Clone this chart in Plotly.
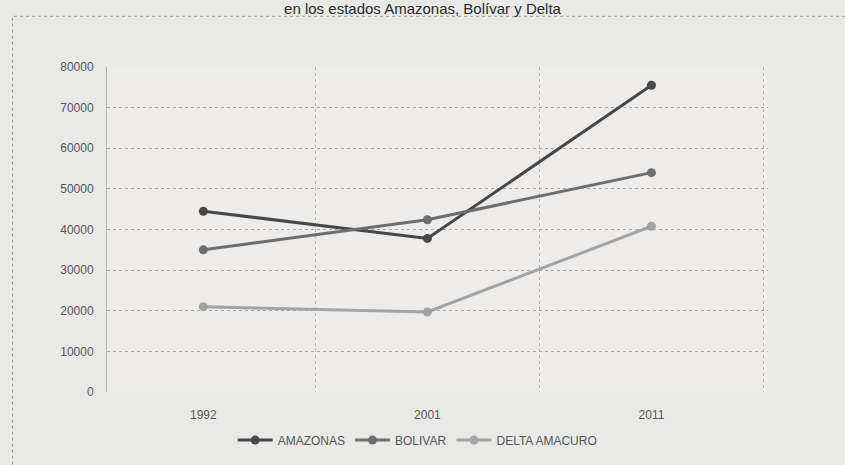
import plotly.graph_objects as go

years = ["1992", "2001", "2011"]
amazonas = [44500, 37800, 75500]
bolivar = [35000, 42400, 54000]
delta = [21000, 19700, 40800]
series_names = ["AMAZONAS", "BOLIVAR", "DELTA AMACURO"]
colors = ["#474747", "#6e6e6e", "#a3a3a3"]
title_text = "en los estados Amazonas, Bolívar y Delta"

xpos = list(range(len(years)))
fig = go.Figure()
for name, vals, col in zip(series_names, [amazonas, bolivar, delta], colors):
    fig.add_trace(go.Scatter(
        x=xpos, y=vals, name=name, mode="lines+markers",
        line=dict(color=col, width=3),
        marker=dict(color=col, size=9),
    ))

fig.update_layout(
    width=845, height=465,
    margin=dict(l=107, r=77, t=67, b=72),
    paper_bgcolor="#e9e9e7",
    plot_bgcolor="#edecea",
    font=dict(family="Liberation Sans, Arial", color="#555555", size=11),
    title=dict(text=title_text, x=0.5, xanchor="center", xref="container",
               y=0.982, yanchor="middle", yref="container",
               font=dict(size=15, color="#2a2a2a", family="Liberation Sans, Arial")),
    legend=dict(orientation="h", x=0.47, xanchor="center", y=-0.1, yanchor="top",
                font=dict(size=12, color="#555555"), itemwidth=35,
                bgcolor="rgba(0,0,0,0)"),
    xaxis=dict(
        range=[-0.43, 2.52], tickmode="array", tickvals=xpos, ticktext=years,
        showgrid=False, zeroline=False, showline=False, ticks="",
        ticklabelstandoff=14,
        tickfont=dict(size=12, color="#555555"),
        minor=dict(tickmode="array", tickvals=[0.5, 1.5, 2.5], showgrid=True,
                   gridcolor="#b5b5b5", griddash="dot", gridwidth=1),
    ),
    yaxis=dict(
        range=[0, 80000], dtick=10000, tickformat="d",
        showgrid=True, gridcolor="#a8a8a8", griddash="dot", gridwidth=1,
        zeroline=False, showline=True, linecolor="#b5b5b5", ticks="",
        ticklabelstandoff=10,
        tickfont=dict(size=12, color="#555555"),
    ),
    showlegend=True,
)

# outer chart frame (dotted)
fig.add_shape(type="rect", xref="paper", yref="paper",
              x0=-0.143, x1=1.2, y0=-0.3, y1=1.156,
              line=dict(color="#9a9a9a", width=1, dash="dot"))

fig.write_html("out.html")
